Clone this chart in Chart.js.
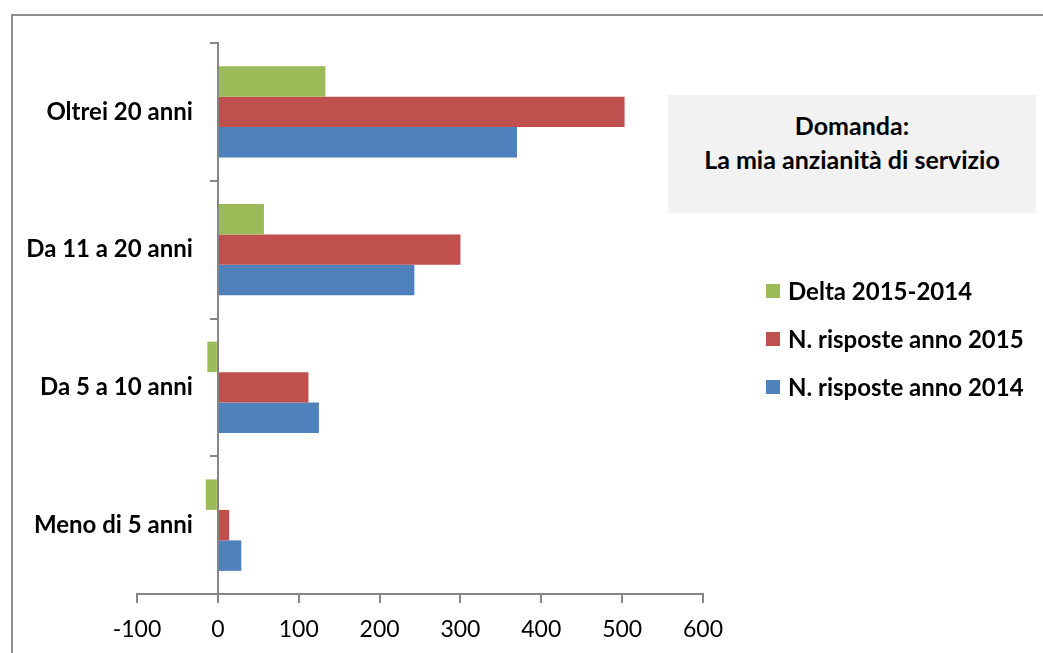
<!DOCTYPE html>
<html lang="it">
<head>
<meta charset="utf-8">
<script src="https://cdn.jsdelivr.net/npm/chart.js@4"></script>
<style>
  html, body { margin: 0; padding: 0; background: #fff; overflow: hidden; }
  body { width: 1043px; height: 653px; position: relative; font-family: Lato, "Open Sans", sans-serif; }
  #frame { position: absolute; left: 11px; top: 14px; width: 1100px; height: 700px; border-left: 2px solid #8e8e8e; border-top: 2px solid #8e8e8e; }
  #wrap { position: absolute; left: 0; top: 0; width: 1043px; height: 653px; }
  #note { position: absolute; left: 668px; top: 95px; width: 368px; height: 118px; background: #f2f2f2;
          text-align: center; font-weight: bold; font-size: 25px; line-height: 34px; color: #000; padding-top: 13px; box-sizing: border-box; }
  #legend { position: absolute; left: 766px; top: 276px; }
  .item { height: 48px; display: flex; align-items: flex-start; font-weight: bold; font-size: 24px; line-height: 29px; color: #000; }
  .item span.box { width: 14px; height: 14px; margin-top: 8px; margin-right: 8px; display: inline-block; flex: none; }
</style>
</head>
<body>
<div id="frame"></div>
<div id="wrap"><canvas id="chart" width="1043" height="653"></canvas></div>
<div id="note">Domanda:<br>La mia anzianità di servizio</div>
<div id="legend"></div>
<script>
// categories, top to bottom
const categories = ["Oltrei 20 anni", "Da 11 a 20 anni", "Da 5 a 10 anni", "Meno di 5 anni"];
const seriesNames = ["Delta 2015-2014", "N. risposte anno 2015", "N. risposte anno 2014"];
const delta = [133, 57, -13, -15];
const risposte2015 = [503, 300, 112, 14];
const risposte2014 = [370, 243, 125, 29];
const xTicks = [-100, 0, 100, 200, 300, 400, 500, 600];
const colors = ["#9bbb59", "#c0504d", "#4f81bd"];

const axisGray = "#868686";

// category labels drawn left of the y axis (which sits at x = 0)
const categoryLabels = {
    id: "categoryLabels",
    afterDraw(chart) {
        const y = chart.scales.y;
        const x0 = chart.scales.x.getPixelForValue(0);
        const ctx = chart.ctx;
        ctx.save();
        ctx.font = "bold 24px Lato, 'Open Sans', sans-serif";
        ctx.fillStyle = "#000";
        ctx.textAlign = "right";
        ctx.textBaseline = "middle";
        categories.forEach((c, i) => {
            ctx.fillText(c, x0 - 25, y.getPixelForTick(i));
        });
        ctx.restore();
    }
};

const ctx = document.getElementById("chart").getContext("2d");
new Chart(ctx, {
    type: "bar",
    data: {
        labels: categories,
        datasets: [
            { label: seriesNames[0], data: delta, backgroundColor: colors[0] },
            { label: seriesNames[1], data: risposte2015, backgroundColor: colors[1] },
            { label: seriesNames[2], data: risposte2014, backgroundColor: colors[2] }
        ]
    },
    options: {
        indexAxis: "y",
        responsive: false,
        animation: false,
        datasets: { bar: { categoryPercentage: 0.664, barPercentage: 1 } },
        layout: { padding: { left: 137, right: 340, top: 43, bottom: 0 } },
        plugins: { legend: { display: false }, tooltip: { enabled: false } },
        scales: {
            x: {
                position: "bottom",
                min: -100,
                max: 600,
                afterBuildTicks: (scale) => { scale.ticks = xTicks.map(v => ({ value: v })); },
                afterFit: (scale) => { scale.height = 59; },
                grid: { drawOnChartArea: false, tickLength: 9, color: axisGray, lineWidth: 2 },
                border: { color: axisGray, width: 2 },
                ticks: { color: "#000", padding: 13, maxRotation: 0, font: { family: "Lato, 'Open Sans', sans-serif", size: 23 } }
            },
            y: {
                position: { x: 0 },
                offset: true,
                grid: { offset: true, drawOnChartArea: false, tickLength: 7, color: axisGray, lineWidth: 2 },
                border: { color: axisGray, width: 2 },
                ticks: { display: false }
            }
        }
    },
    plugins: [categoryLabels]
});

// legend built from the series arrays
const legend = document.getElementById("legend");
seriesNames.forEach((name, i) => {
    const row = document.createElement("div");
    row.className = "item";
    row.innerHTML = '<span class="box" style="background:' + colors[i] + '"></span>' + name;
    legend.appendChild(row);
});
</script>
</body>
</html>
